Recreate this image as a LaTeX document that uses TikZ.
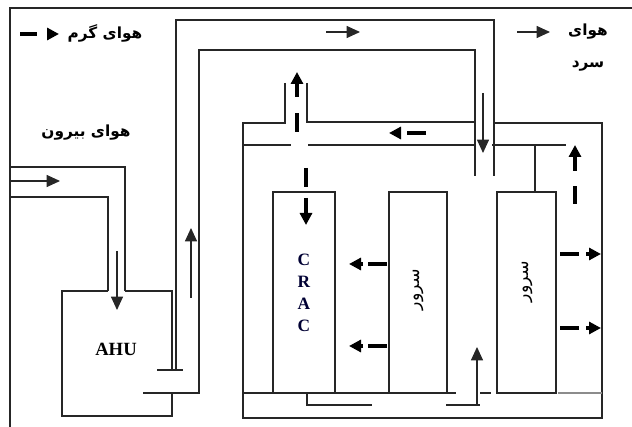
\documentclass[tikz,border=0pt]{standalone}
\usepackage{fontspec}
\setmainfont{Liberation Serif}
\newfontfamily\fafont[Script=Arabic]{DejaVu Sans}
\TeXXeTstate=1
\usetikzlibrary{positioning, arrows.meta}

\begin{document}
\begin{tikzpicture}[
  x=0.75pt, y=-0.75pt,
  every node/.style={font=\small},
  wall/.style={draw=black!85, line width=0.8pt},
  flow/.style={black!85, line width=0.8pt, -{Triangle[length=10pt, width=9pt]}},
  hotbar/.style={black, line width=3pt},
  hothead/.style={black, line width=3pt, -{Triangle[length=9pt, width=9pt]}},
  box/.style={wall, minimum height=150.75pt, inner sep=0pt},
  falbl/.style={font=\fafont\bfseries\fontsize{11.5}{13}\selectfont, inner sep=0pt},
  srvlbl/.style={font=\fafont\fontsize{13}{15}\selectfont, rotate=90, inner sep=0pt}
]
\useasboundingbox (0,0) rectangle (632,427);

% ---- Frame ----
\draw[wall] (10,427) -- (10,8) -- (632,8);

% ---- Legend ----
\node[falbl] (hotlbl) at (105,33) {\beginR هوای گرم\endR};
\draw[hotbar] (20,34) -- (37,34);
\draw[hothead] (47,34) -- (59,34);

\node[falbl] (coldlbl) at (588,32) {\beginR هوای\endR};
\node[falbl, below=26pt of coldlbl.center, anchor=center] (coldlbl2) {\beginR سرد\endR};
\draw[flow] (517,32) -- (550,32);

% ---- Outside air intake ----
\node[falbl] (outlbl) at (86,133) {\beginR هوای بیرون\endR};
\draw[wall] (10,167) -- (125,167) -- (125,291);
\draw[wall] (10,197) -- (108,197) -- (108,291);
\draw[flow] (10,181) -- (60,181);
\draw[flow] (117,251) -- (117,310);

% ---- AHU ----
\node[font=\bfseries\fontsize{14}{16}\selectfont] (ahu) at (116,349) {AHU};
\draw[wall] (108,291) -- (62,291) -- (62,416) -- (172,416) -- (172,393);
\draw[wall] (125,291) -- (172,291) -- (172,370);

% ---- Supply duct (AHU -> room) ----
\draw[wall] (157,370) -- (183,370);
\draw[wall] (176,370) -- (176,20) -- (494,20) -- (494,176);
\draw[wall] (143,393) -- (199,393) -- (199,50) -- (475,50) -- (475,176);
\draw[flow] (191,298) -- (191,228);
\draw[flow] (326,32) -- (360,32);
\draw[flow] (483,93) -- (483,153);

% ---- Room ----
\draw[wall] (285,83) -- (285,123) -- (243,123) -- (243,418) -- (602,418) -- (602,123) -- (493,123);
\draw[wall] (307,83) -- (307,122) -- (476,122);
\draw[wall] (243,145) -- (291,145);
\draw[wall] (308,145) -- (476,145);
\draw[wall] (492,145) -- (566,145);

% ---- Raised floor ----
\draw[wall] (243,393) -- (456,393);
\draw[wall] (480,393) -- (491,393);
\draw[draw=black!45, line width=0.8pt] (558,393) -- (602,393);
\draw[wall] (307,393) -- (307,405) -- (372,405);
\draw[wall] (446,405) -- (480,405);
\draw[flow] (477,405) -- (477,347);

% ---- CRAC and servers ----
\node[box, minimum width=46.5pt, align=center, text=blue!20!black,
      font=\bfseries\fontsize{13}{16.5}\selectfont] (crac) at (304,292.5) {C\\R\\A\\C};
\node[box, minimum width=43.5pt] (srv1) at (418,292.5) {};
\node[box, minimum width=44.25pt] (srv2) at (526.5,292.5) {};
\node[srvlbl] at ([yshift=2pt]srv1.center) {\beginR سرور\endR};
\node[srvlbl] at ([xshift=1pt, yshift=8pt]srv2.center) {\beginR سرور\endR};
\coordinate (srvtap) at (535,145);
\draw[wall] (srvtap) -- (srvtap |- srv2.north);

% ---- Hot air flow ----
\draw[hotbar] (297,132) -- (297,113);
\draw[hothead] (297,97) -- (297,72);
\draw[hotbar] (306,168) -- (306,187);
\draw[hothead] (306,198) -- (306,225);
\draw[hotbar] (426,133) -- (407,133);
\draw[hothead] (400,133) -- (389,133);
\draw[hotbar] (387,264) -- (368,264);
\draw[hothead] (363,264) -- (349,264);
\draw[hotbar] (387,346) -- (368,346);
\draw[hothead] (363,346) -- (349,346);
\draw[hotbar] (560,254) -- (579,254);
\draw[hothead] (586,254) -- (601,254);
\draw[hotbar] (560,328) -- (579,328);
\draw[hothead] (586,328) -- (601,328);
\draw[hotbar] (575,204) -- (575,186);
\draw[hothead] (575,171) -- (575,145);

\end{tikzpicture}
\end{document}
